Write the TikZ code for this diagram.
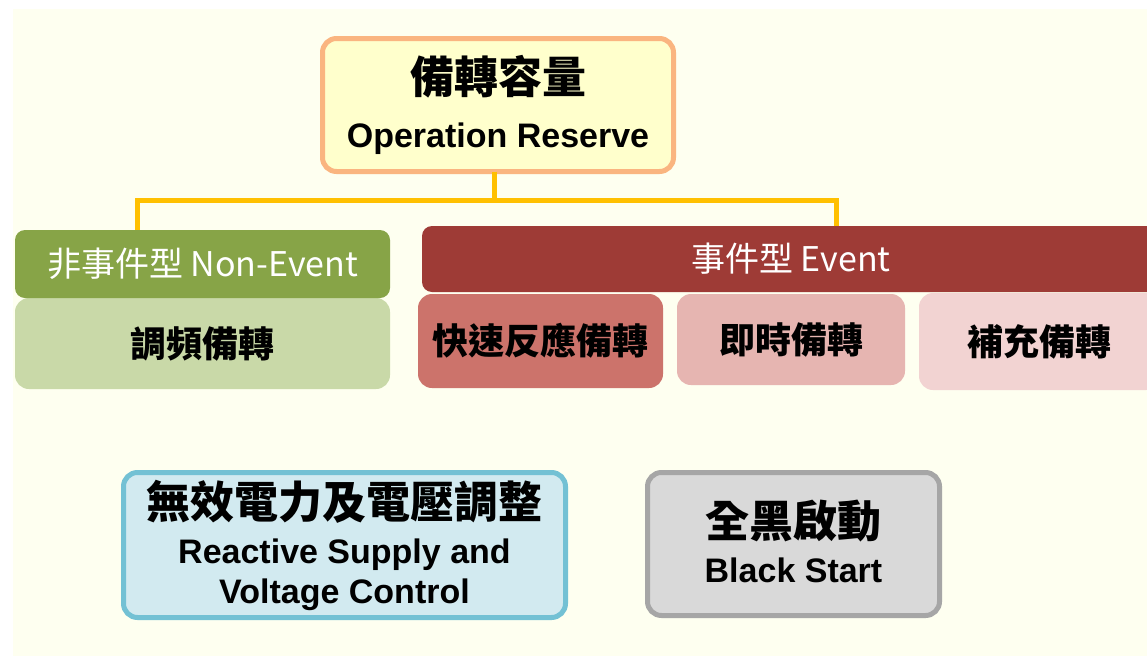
\documentclass[tikz,border=0pt]{standalone}
\usepackage{fontspec}
\setmainfont{Liberation Sans}
\newfontfamily\cjk{Noto Sans CJK TC}
\definecolor{bgy}{HTML}{FEFFF0}
\definecolor{topfill}{HTML}{FFFFCC}
\definecolor{topdraw}{HTML}{FAB580}
\definecolor{cgold}{HTML}{FFC000}
\definecolor{gh}{HTML}{87A447}
\definecolor{gl}{HTML}{C9D9A8}
\definecolor{eh}{HTML}{9E3B36}
\definecolor{ea}{HTML}{CC736B}
\definecolor{eb}{HTML}{E6B5B1}
\definecolor{ec}{HTML}{F2D3D2}
\definecolor{bfill}{HTML}{D2EAF0}
\definecolor{bdraw}{HTML}{73C1D4}
\definecolor{gfill}{HTML}{D9D9D9}
\definecolor{gdraw}{HTML}{A6A6A6}
\begin{document}
\begin{tikzpicture}[x=1pt,y=-1pt,
  box/.style={rounded corners=14pt, inner sep=0pt, outer sep=0pt, align=center, anchor=north west},
  framed/.style={box, line width=5pt},
  hdr/.style={box, rounded corners=10pt, text=white, font=\cjk\fontsize{34}{40}\selectfont},
  sub/.style={box, font=\cjk\bfseries\fontsize{36}{42}\selectfont},
  conn/.style={draw=cgold, line width=5pt, line join=miter}]
\useasboundingbox (0,0) rectangle (1147,656);
\fill[white] (0,0) rectangle (1147,656);
\fill[bgy] (13,9) rectangle (1147,656);
\clip (0,0) rectangle (1147,656);
% top box
\node[framed, draw=topdraw, fill=topfill, minimum width=351pt, minimum height=133pt,
  font=\bfseries\fontsize{34}{54}\selectfont] (top) at (322.5,38.5)
  {{\cjk\fontsize{44}{54}\selectfont 備轉容量}\\Operation Reserve};
% non-event
\node[sub, fill=gl, minimum width=375pt, minimum height=91pt] (freq) at (15,298) {調頻備轉};
\node[hdr, fill=gh, minimum width=375pt, minimum height=68pt] (nonev) at (15,230) {非事件型 Non-Event};
% event
\node[hdr, fill=eh, minimum width=738pt, minimum height=66pt] (ev) at (422,226) {事件型 Event};
\node[sub, fill=ea, minimum width=245pt, minimum height=94pt] (fast) at (418,294) {快速反應備轉};
\node[sub, fill=eb, minimum width=228pt, minimum height=91pt] (inst) at (677,294) {即時備轉};
\node[sub, fill=ec, minimum width=241pt, minimum height=97pt] (supp) at (919,293) {補充備轉};
% connectors
\coordinate (j) at (494,200);
\draw[conn] ([xshift=-4pt]top.south) -- (j);
\draw[conn] ([xshift=122pt]nonev.north west) |- (j) -| ([xshift=414pt]ev.north west);
% bottom boxes
\node[framed, draw=bdraw, fill=bfill, minimum width=442pt, minimum height=145pt,
  font=\bfseries\fontsize{34}{40}\selectfont] (react) at (123.5,472.5)
  {{\cjk\fontsize{44}{40}\selectfont 無效電力及電壓調整}\\[5pt]Reactive Supply and\\Voltage Control};
\node[framed, draw=gdraw, fill=gfill, minimum width=292pt, minimum height=143pt,
  font=\bfseries\fontsize{34}{45}\selectfont] (black) at (647.5,472.5)
  {{\cjk\fontsize{44}{45}\selectfont 全黑啟動}\\Black Start\rule[-6pt]{0pt}{6pt}};
\end{tikzpicture}
\end{document}
